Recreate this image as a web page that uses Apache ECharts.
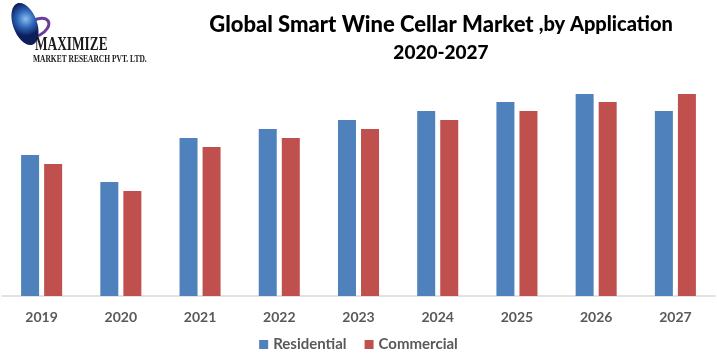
<!DOCTYPE html>
<html>
<head>
<meta charset="utf-8">
<script src="https://cdn.jsdelivr.net/npm/echarts@6/dist/echarts.min.js"></script>
<style>html,body{margin:0;padding:0;background:#fff;}#c{width:717px;height:364px;}</style>
</head>
<body>
<div id="c"></div>
<script>
const categories = ['2019','2020','2021','2022','2023','2024','2025','2026','2027'];
const residential = [141,114,158,167,176,185,194,202,185];
const commercial  = [132,105,149,158,167,176,185,194,202];

const chart = echarts.init(document.getElementById('c'));
chart.setOption({
  animation: false,
  backgroundColor: '#ffffff',
  title: {
    left: 436, top: 6, textAlign: 'center',
    text: '{a|Global Smart Wine Cellar Market} {b|,by Application}\n{c|2020-2027}',
    textStyle: {
      rich: {
        a: {fontFamily: 'Lato', fontWeight: 900, fontSize: 22, color: '#000', lineHeight: 28},
        b: {fontFamily: 'Lato', fontWeight: 900, fontSize: 20, color: '#000', lineHeight: 28},
        c: {fontFamily: 'Lato', fontWeight: 900, fontSize: 19, color: '#000', lineHeight: 28}
      }
    }
  },
  legend: {
    bottom: 7, left: 'center', itemWidth: 9, itemHeight: 9, itemGap: 18,
    icon: 'rect',
    textStyle: {fontFamily: 'Lato', fontWeight: 'bold', fontSize: 15, color: '#595959'},
    data: ['Residential','Commercial']
  },
  grid: {left: 2, right: 2, top: 76, bottom: 68},
  xAxis: {
    type: 'category', data: categories,
    axisLine: {lineStyle: {color: '#d9d9d9', width: 1.5}},
    axisTick: {show: false},
    axisLabel: {margin: 14, fontFamily: 'Lato', fontWeight: 'bold', fontSize: 14, color: '#595959'}
  },
  yAxis: {type: 'value', min: 0, max: 220, show: false, splitLine: {show: false}},
  series: [
    {name: 'Residential', type: 'bar', data: residential, barWidth: 18, barGap: '28%', itemStyle: {color: '#4F81BD'}},
    {name: 'Commercial', type: 'bar', data: commercial, barWidth: 18, itemStyle: {color: '#C0504D'}}
  ],
  graphic: [
    {type: 'ellipse', shape: {cx: 36, cy: 28, rx: 14, ry: 8}, rotation: 0.5, originX: 36, originY: 28,
     style: {fill: 'none', stroke: '#6a3d9a', lineWidth: 3}},
    {type: 'ellipse', shape: {cx: 25, cy: 24, rx: 12, ry: 22}, rotation: 0.35, originX: 25, originY: 24,
     style: {fill: new echarts.graphic.RadialGradient(0.6, 0.4, 0.7, [{offset: 0, color: '#8cc0ee'}, {offset: 0.5, color: '#3068bb'}, {offset: 1, color: '#0c1f5c'}])}},
    {type: 'text', left: 35, top: 36, style: {text: 'MAXIMIZE', fontFamily: 'Liberation Serif', fontWeight: 'bold', fontSize: 18, fill: '#1a1a1a'}, scaleX: 0.74},
    {type: 'text', left: 33, top: 54, style: {text: 'MARKET RESEARCH PVT. LTD.', fontFamily: 'Liberation Serif', fontWeight: 'bold', fontSize: 11, fill: '#1a1a1a'}, scaleX: 0.68}
  ]
});
</script>
</body>
</html>
